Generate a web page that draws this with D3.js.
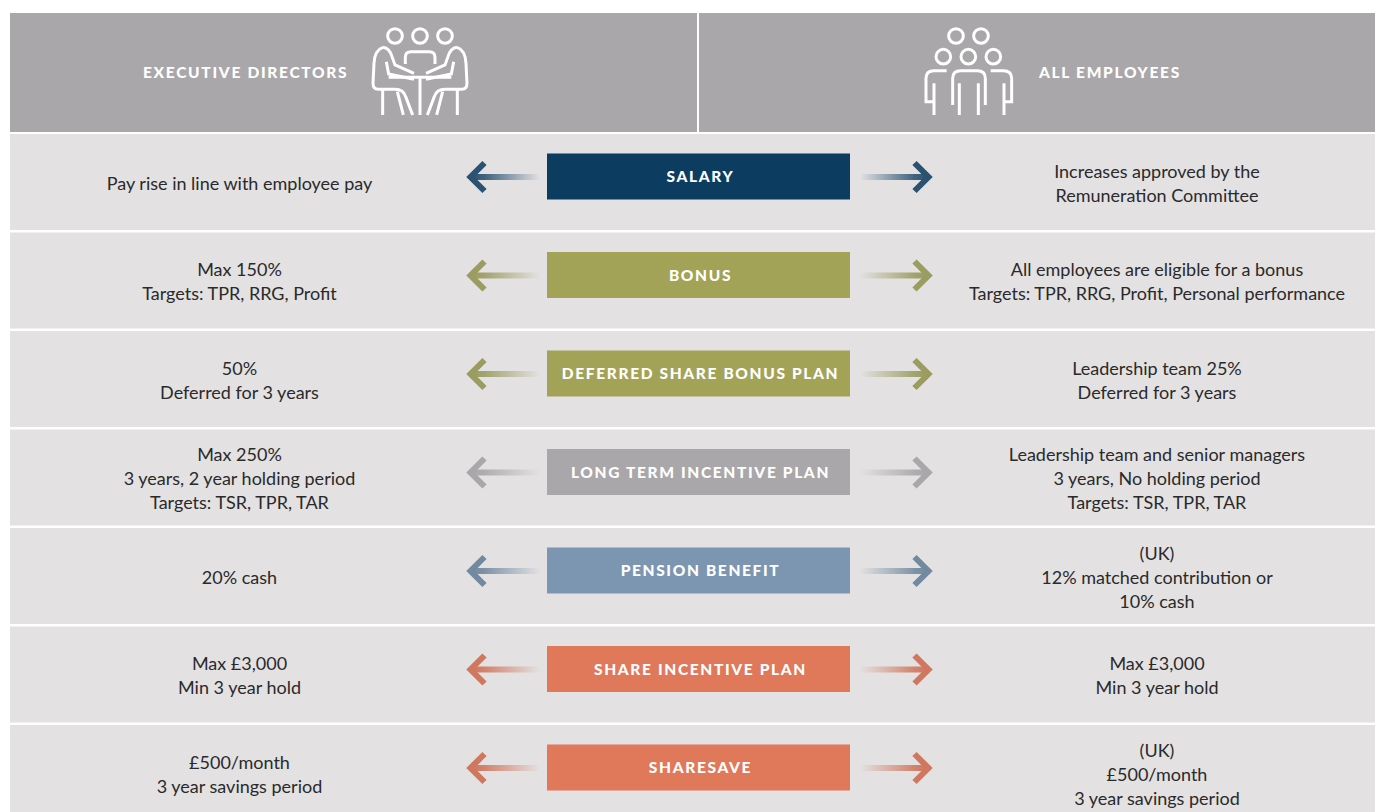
<!DOCTYPE html>
<html>
<head>
<meta charset="utf-8">
<style>
  html, body { margin: 0; padding: 0; background: #fff; overflow: hidden; }
  svg { display: block; }
  .cell-text { font-family: Lato, sans-serif; font-size: 18px; fill: #2a2a2a; text-anchor: middle; }
  .bar-label { font-family: Lato, sans-serif; font-size: 15.5px; font-weight: 900; letter-spacing: 1.65px; fill: #fff; text-anchor: middle; }
  .head-label { font-family: Lato, sans-serif; font-size: 15.5px; font-weight: 900; letter-spacing: 1.7px; fill: #fff; }
  .icon { fill: none; stroke: #fff; stroke-width: 9; }
</style>
</head>
<body>
<svg id="chart" width="1375" height="812"></svg>
<script src="https://cdn.jsdelivr.net/npm/d3@7"></script>
<script>
// chart data
var categories = ['SALARY', 'BONUS', 'DEFERRED SHARE BONUS PLAN', 'LONG TERM INCENTIVE PLAN',
  'PENSION BENEFIT', 'SHARE INCENTIVE PLAN', 'SHARESAVE'];
var colours = ['#0c3c60', '#a3a358', '#a3a358', '#a9a7a9', '#7c96b2', '#e0785a', '#e0785a'];
var arrowColours = ['#2c5272', '#9a9c60', '#9a9c60', '#a9a7a9', '#72899f', '#d0775f', '#d0775f'];
var executiveText = [
  ['Pay rise in line with employee pay'],
  ['Max 150%', 'Targets: TPR, RRG, Profit'],
  ['50%', 'Deferred for 3 years'],
  ['Max 250%', '3 years, 2 year holding period', 'Targets: TSR, TPR, TAR'],
  ['20% cash'],
  ['Max £3,000', 'Min 3 year hold'],
  ['£500/month', '3 year savings period']
];
var employeeText = [
  ['Increases approved by the', 'Remuneration Committee'],
  ['All employees are eligible for a bonus', 'Targets: TPR, RRG, Profit, Personal performance'],
  ['Leadership team 25%', 'Deferred for 3 years'],
  ['Leadership team and senior managers', '3 years, No holding period', 'Targets: TSR, TPR, TAR'],
  ['(UK)', '12% matched contribution or', '10% cash'],
  ['Max £3,000', 'Min 3 year hold'],
  ['(UK)', '£500/month', '3 year savings period']
];

var svg = d3.select('#chart');
var defs = svg.append('defs');

var left = 10, right = 1375, rowTop = 134, rowPitch = 98.5, rowHeight = 96;
var lineHeight = 24;

var y = d3.scaleBand()
  .domain(categories)
  .range([rowTop, rowTop + rowPitch * categories.length])
  .paddingInner(0);

/*
 * header
 */
svg.append('rect').attr('x', left).attr('y', 13).attr('width', right - left).attr('height', 119).attr('fill', '#a9a7a9');
svg.append('rect').attr('x', 697).attr('y', 13).attr('width', 2).attr('height', 119).attr('fill', '#fff');
svg.append('text').attr('class', 'head-label').attr('x', 143).attr('y', 78).text('EXECUTIVE DIRECTORS');
svg.append('text').attr('class', 'head-label').attr('x', 1039).attr('y', 78).text('ALL EMPLOYEES');

// icons are traced at 3x, hence the scale
var execIcon = svg.append('g').attr('class', 'icon').attr('transform', 'translate(340,0) scale(0.3333)');
[165, 240, 315].forEach(function(cx) {
  execIcon.append('circle').attr('cx', cx).attr('cy', 108).attr('r', 22);
});
[
  'M196,192 V172 Q196,155 213,155 H268 Q285,155 285,172 V192',
  'M129,142 Q104,150 102,190 L99,250 Q99,268 115,268 H165 Q190,268 197,290 L218,345',
  'M351,142 Q376,150 378,190 L381,250 Q381,268 365,268 H315 Q290,268 283,290 L262,345',
  'M129,142 Q149,145 156,170 L165,195 L222,220',
  'M351,142 Q331,145 324,170 L315,195 L258,220',
  'M139,185 L146,222 L222,238',
  'M341,185 L334,222 L258,238',
  'M146,232 H334',
  'M128,268 V345 M352,268 V345',
  'M240,235 V345',
  'M172,275 L190,345 M308,275 L290,345'
].forEach(function(d) {
  execIcon.append('path').attr('d', d);
});

var staffIcon = svg.append('g').attr('class', 'icon').attr('transform', 'translate(900,0) scale(0.3333)');
[[168, 108], [243, 108], [130, 170], [205, 170], [280, 170]].forEach(function(c) {
  staffIcon.append('circle').attr('cx', c[0]).attr('cy', c[1]).attr('r', 22);
});
[
  'M158,315 V235 Q158,212 182,212 H232 Q256,212 256,235 V315',
  'M178,345 V250 M235,345 V250',
  'M140,212 H102 Q78,212 78,235 V305 H102 M102,250 V345',
  'M272,212 H310 Q335,212 335,235 V305 H312 M312,250 V345'
].forEach(function(d) {
  staffIcon.append('path').attr('d', d);
});

/*
 * rows
 */
var rows = svg.selectAll('g.row')
  .data(categories)
  .enter().append('g')
  .attr('class', 'row')
  .attr('transform', function(d) { return 'translate(0,' + y(d) + ')'; });

rows.append('rect')
  .attr('x', left)
  .attr('width', right - left)
  .attr('height', rowHeight)
  .attr('fill', '#e3e1e2');

rows.append('rect')
  .attr('x', 547)
  .attr('y', 19.5)
  .attr('width', 303)
  .attr('height', 46)
  .attr('fill', function(d, i) { return colours[i]; });

rows.append('text')
  .attr('class', 'bar-label')
  .attr('x', 700.5)
  .attr('y', 48)
  .text(function(d) { return d; });

function addLines(selection, x, lookup, cls) {
  selection.each(function(d, i) {
    var lines = lookup[i];
    var startY = 49.5 - (lines.length - 1) * lineHeight / 2 + 6;
    d3.select(this).selectAll('text.' + cls)
      .data(lines)
      .enter().append('text')
      .attr('class', 'cell-text ' + cls)
      .attr('x', x)
      .attr('y', function(l, j) { return startY + j * lineHeight; })
      .text(function(l) { return l; });
  });
}
addLines(rows, 239.5, executiveText, 'exec');
addLines(rows, 1157, employeeText, 'staff');

// gradient fades away from the arrow head, so one per row and direction
function addGradient(id, colour, x1, x2) {
  var g = defs.append('linearGradient').attr('id', id).attr('x1', x1).attr('x2', x2).attr('y1', 0).attr('y2', 0);
  g.append('stop').attr('offset', '0%').attr('stop-color', colour).attr('stop-opacity', 1);
  g.append('stop').attr('offset', '20%').attr('stop-color', colour).attr('stop-opacity', 0.9);
  g.append('stop').attr('offset', '100%').attr('stop-color', colour).attr('stop-opacity', 0);
}

rows.each(function(d, i) {
  var row = d3.select(this);
  addGradient('fadeL' + i, arrowColours[i], 0, 1);
  addGradient('fadeR' + i, arrowColours[i], 1, 0);

  // left arrow
  row.append('rect').attr('x', 470).attr('y', 40).attr('width', 70).attr('height', 6)
    .attr('fill', 'url(#fadeL' + i + ')');
  row.append('path')
    .attr('d', 'M484.5,29 L470.5,43 L484.5,57')
    .attr('fill', 'none').attr('stroke', arrowColours[i]).attr('stroke-width', 6);

  // right arrow
  row.append('rect').attr('x', 860).attr('y', 40).attr('width', 69).attr('height', 6)
    .attr('fill', 'url(#fadeR' + i + ')');
  row.append('path')
    .attr('d', 'M914.5,29 L928.5,43 L914.5,57')
    .attr('fill', 'none').attr('stroke', arrowColours[i]).attr('stroke-width', 6);
});
</script>
</body>
</html>
